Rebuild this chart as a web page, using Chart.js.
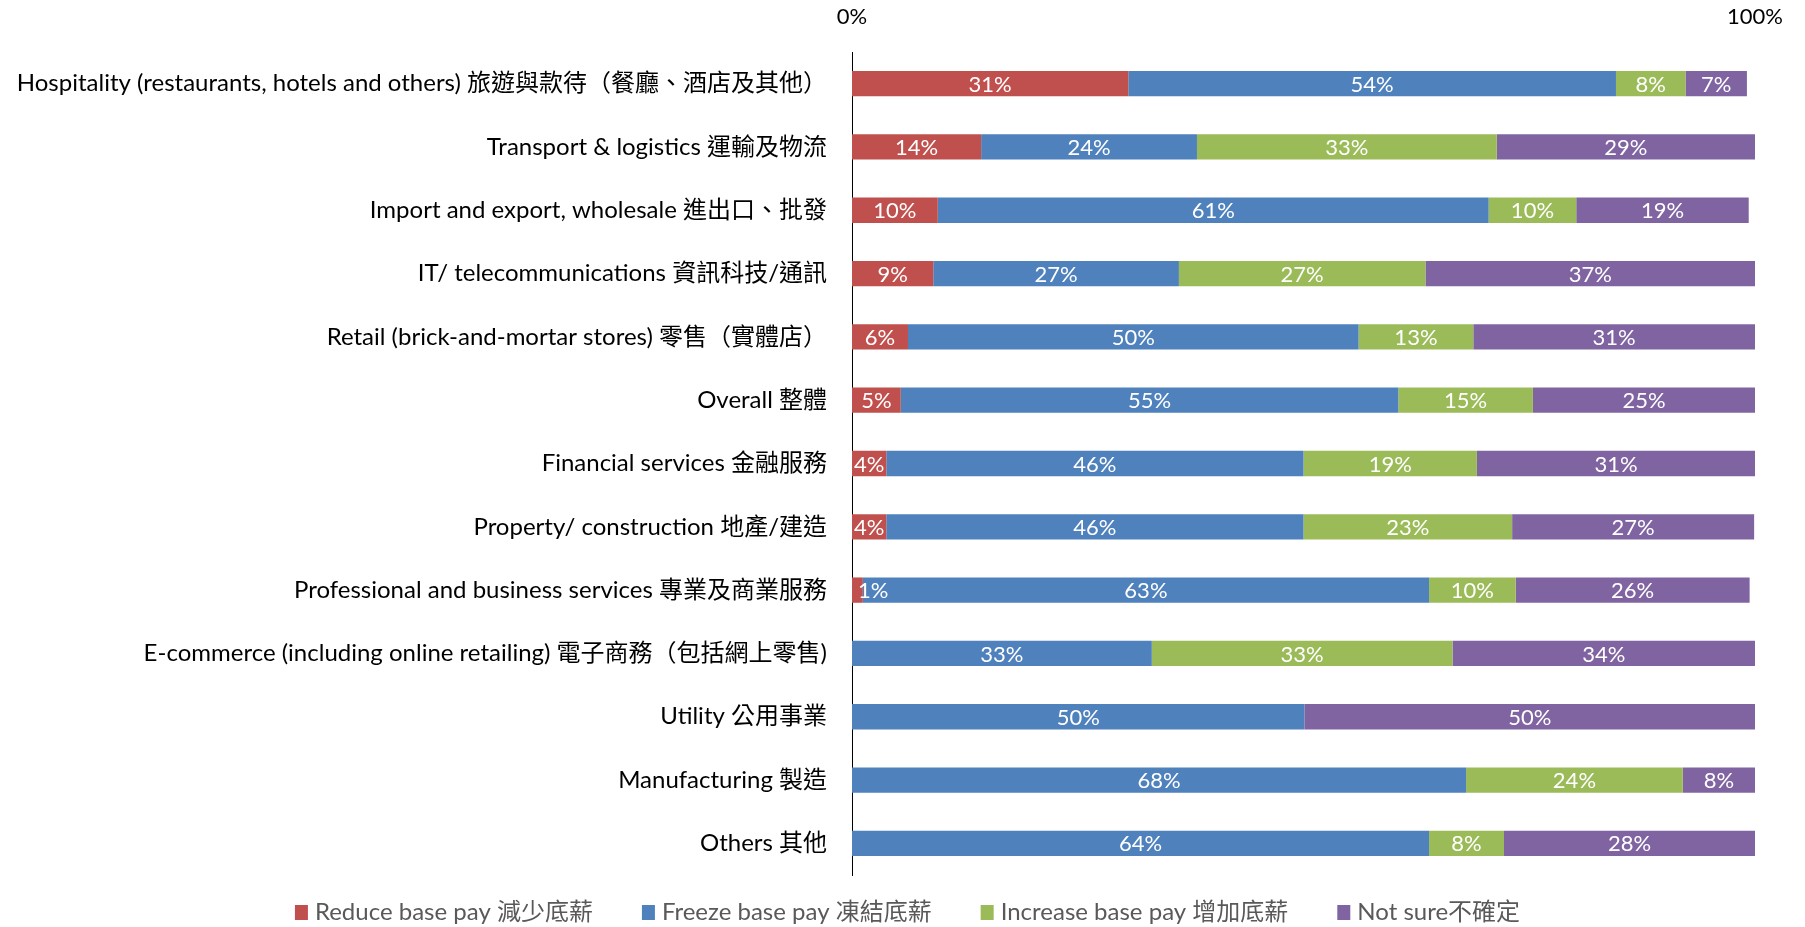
<!DOCTYPE html>
<html lang="zh-Hant">
<head>
    <meta charset="UTF-8">
    <title>Base pay plans by industry</title>
    <script src="https://cdn.jsdelivr.net/npm/chart.js"></script>
    <style>
        body { margin: 0; background: #fff; }
        #wrap { width: 1805px; height: 927px; position: relative; }
    </style>
</head>
<body>
    <div id="wrap"><canvas id="payChart"></canvas></div>

    <script>
        // industries (top to bottom)
        const industries = [
            'Hospitality (restaurants, hotels and others) 旅遊與款待（餐廳、酒店及其他）',
            'Transport & logistics 運輸及物流',
            'Import and export, wholesale 進出口、批發',
            'IT/ telecommunications 資訊科技/通訊',
            'Retail (brick-and-mortar stores) 零售（實體店）',
            'Overall 整體',
            'Financial services 金融服務',
            'Property/ construction 地產/建造',
            'Professional and business services 專業及商業服務',
            'E-commerce (including online retailing) 電子商務（包括網上零售)',
            'Utility 公用事業',
            'Manufacturing 製造',
            'Others 其他'
        ];

        // share of respondents, %
        const reducePay   = [30.6, 14.3, 9.5, 9.0, 6.2, 5.4, 3.8, 3.8, 1.2, null, null, null, null];
        const freezePay   = [54.0, 23.9, 61.0, 27.2, 49.9, 55.1, 46.2, 46.2, 62.7, 33.2, 50.1, 68.0, 63.9];
        const increasePay = [7.7, 33.2, 9.7, 27.3, 12.7, 14.9, 19.2, 23.1, 9.6, 33.3, null, 24.0, 8.3];
        const notSure     = [6.8, 28.6, 19.1, 36.5, 31.2, 24.6, 30.8, 26.8, 25.9, 33.5, 49.9, 8.0, 27.8];

        const seriesNames = ['Reduce base pay 減少底薪', 'Freeze base pay 凍結底薪', 'Increase base pay 增加底薪', 'Not sure不確定'];
        const seriesColors = ['#C0504D', '#4F81BD', '#9BBB59', '#8064A2'];
        const axisTicks = [0, 100];

        const FONT = 'Lato, "Noto Sans CJK TC", sans-serif';

        // white % labels inside each segment
        const segmentLabels = {
            id: 'segmentLabels',
            afterDatasetsDraw(chart) {
                const ctx = chart.ctx;
                ctx.save();
                ctx.font = '22px ' + FONT;
                ctx.fillStyle = '#fff';
                ctx.textAlign = 'center';
                ctx.textBaseline = 'middle';
                chart.data.datasets.forEach((ds, i) => {
                    chart.getDatasetMeta(i).data.forEach((bar, j) => {
                        const v = ds.data[j];
                        if (v == null) return;
                        const txt = Math.round(v) + '%';
                        const tw = ctx.measureText(txt).width;
                        const w = bar.x - bar.base;
                        let x = bar.base + w / 2;
                        if (tw > w) x = bar.base + tw / 2 + 6;
                        ctx.fillText(txt, x, bar.y + 1);
                    });
                });
                ctx.restore();
            }
        };

        // legend row at the bottom
        const bottomLegend = {
            id: 'bottomLegend',
            afterDraw(chart) {
                const ctx = chart.ctx;
                ctx.save();
                ctx.font = '24px ' + FONT;
                ctx.textBaseline = 'middle';
                const box = 13, gapText = 7, gapItem = 49;
                const widths = seriesNames.map(t => box + gapText + ctx.measureText(t).width);
                const total = widths.reduce((a, b) => a + b, 0) + gapItem * (widths.length - 1);
                let x = (chart.width - total) / 2 + 5;
                const y = 911;
                seriesNames.forEach((t, i) => {
                    ctx.fillStyle = seriesColors[i];
                    ctx.fillRect(x, y - 6, box, 15);
                    ctx.fillStyle = '#595959';
                    ctx.fillText(t, x + box + gapText, y + 1);
                    x += widths[i] + gapItem;
                });
                ctx.restore();
            }
        };

        const datasets = [reducePay, freezePay, increasePay, notSure].map((d, i) => ({
            label: seriesNames[i],
            data: d,
            backgroundColor: seriesColors[i],
            borderWidth: 0,
            barPercentage: 0.4,
            categoryPercentage: 1
        }));

        new Chart(document.getElementById('payChart'), {
            type: 'bar',
            data: { labels: industries, datasets: datasets },
            plugins: [segmentLabels, bottomLegend],
            options: {
                indexAxis: 'y',
                responsive: true,
                maintainAspectRatio: false,
                animation: false,
                layout: { padding: { left: 0, right: 43, top: 0, bottom: 52 } },
                plugins: {
                    legend: { display: false },
                    tooltip: { enabled: false }
                },
                scales: {
                    x: {
                        stacked: true,
                        position: 'top',
                        min: 0,
                        max: 100,
                        afterBuildTicks(scale) {
                            scale.ticks = axisTicks.map(v => ({ value: v }));
                        },
                        afterFit(scale) { scale.height = 52; },
                        grid: { display: false, drawTicks: false },
                        border: { display: false },
                        ticks: {
                            padding: 22,
                            color: '#000',
                            font: { family: FONT, size: 22 },
                            callback: v => v + '%'
                        }
                    },
                    y: {
                        stacked: true,
                        afterFit(scale) { scale.width = 852; },
                        grid: { display: false, drawTicks: false },
                        border: { display: true, color: '#000', width: 1 },
                        ticks: {
                            padding: 25,
                            color: '#000',
                            autoSkip: false,
                            font: { family: FONT, size: 24 }
                        }
                    }
                }
            }
        });
    </script>
</body>
</html>
